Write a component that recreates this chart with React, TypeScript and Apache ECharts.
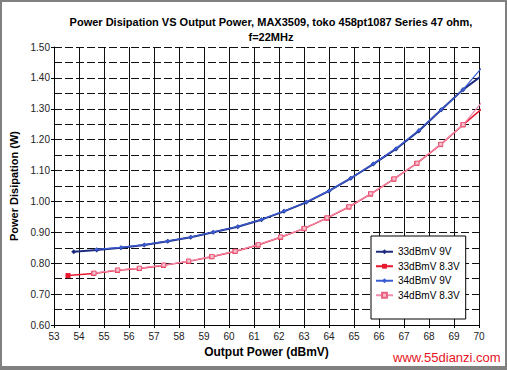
import React, { useEffect, useRef } from "react";
import * as echarts from "echarts";

const xTicks = { min: 53, max: 70, interval: 1 };
const yTicks = { min: 0.6, max: 1.5, interval: 0.1 };

const s33_9V_x = [53.79, 54.71, 55.68, 56.61, 57.55, 58.47, 59.37, 60.35, 61.30, 62.20, 63.09, 64.00, 64.87, 65.77, 66.68, 67.59, 68.49, 69.36, 70.30];
const s33_9V_y = [0.837, 0.843, 0.850, 0.859, 0.871, 0.884, 0.900, 0.918, 0.941, 0.968, 0.997, 1.034, 1.075, 1.121, 1.170, 1.228, 1.297, 1.362, 1.418];

const s34_9V_x = [54.70, 55.68, 56.62, 57.55, 58.48, 59.38, 60.36, 61.30, 62.21, 63.10, 64.01, 64.88, 65.78, 66.69, 67.60, 68.50, 69.37, 70.30];
const s34_9V_y = [0.845, 0.851, 0.860, 0.872, 0.885, 0.901, 0.919, 0.942, 0.969, 0.998, 1.035, 1.076, 1.122, 1.172, 1.231, 1.298, 1.363, 1.451];

const s33_83V_x = [53.56, 54.59, 55.54, 56.41, 57.38, 58.38, 59.31, 60.24, 61.16, 62.06, 63.00, 63.91, 64.79, 65.66, 66.59, 67.51, 68.46, 69.36, 70.30];
const s33_83V_y = [0.760, 0.767, 0.777, 0.783, 0.793, 0.806, 0.821, 0.838, 0.859, 0.884, 0.912, 0.946, 0.982, 1.024, 1.072, 1.123, 1.184, 1.248, 1.313];

const s34_83V_x = [54.60, 55.55, 56.42, 57.39, 58.39, 59.32, 60.25, 61.17, 62.07, 63.01, 63.92, 64.80, 65.67, 66.60, 67.52, 68.47, 69.37, 70.30];
const s34_83V_y = [0.768, 0.778, 0.784, 0.794, 0.807, 0.822, 0.839, 0.860, 0.885, 0.913, 0.947, 0.983, 1.025, 1.073, 1.124, 1.185, 1.249, 1.339];

const seriesNames = ["33dBmV 9V", "33dBmV 8.3V", "34dBmV 9V", "34dBmV 8.3V"];

const zip = (xs: number[], ys: number[]) => xs.map((x, i) => [x, ys[i]]);

export default function App() {
  const ref = useRef<HTMLDivElement>(null);
  useEffect(() => {
    if (!ref.current) return;
    const chart = echarts.init(ref.current, null, { renderer: "svg" });
    const font = "Arial, 'Liberation Sans', sans-serif";
    chart.setOption({
      animation: false,
      backgroundColor: "#ffffff",
      title: {
        text: "Power Disipation VS Output Power, MAX3509, toko 458pt1087 Series 47 ohm,\nf=22MHz",
        left: 266,
        top: 9,
        textAlign: "center",
        textStyle: { fontFamily: font, fontSize: 11, fontWeight: "bold", color: "#000", lineHeight: 15 },
      },
      grid: { left: 54, right: 28, top: 47, bottom: 45, containLabel: false },
      legend: {
        orient: "vertical",
        left: 371,
        top: 236,
        padding: [10, 6, 18, 4],
        itemGap: 3,
        itemWidth: 17,
        itemHeight: 6,
        backgroundColor: "#ffffff",
        borderColor: "#000",
        borderWidth: 1,
        borderRadius: 0,
        textStyle: { fontFamily: font, fontSize: 10, color: "#000", lineHeight: 11.5 },
        data: seriesNames,
      },
      xAxis: {
        type: "value",
        min: xTicks.min,
        max: xTicks.max,
        interval: xTicks.interval,
        name: "Output Power (dBmV)",
        nameLocation: "middle",
        nameGap: 20,
        nameTextStyle: { fontFamily: font, fontSize: 12, fontWeight: "bold", color: "#000" },
        axisLine: { show: true, lineStyle: { color: "#000", width: 1 } },
        axisTick: { show: true, inside: false, length: 3, lineStyle: { color: "#000" } },
        axisLabel: { fontFamily: font, fontSize: 10, color: "#222", margin: 6 },
        splitLine: { show: true, lineStyle: { color: "#111", width: 1, type: "solid" } },
      },
      yAxis: {
        type: "value",
        min: yTicks.min,
        max: yTicks.max,
        interval: yTicks.interval,
        name: "Power Disipation (W)",
        nameLocation: "middle",
        nameGap: 29,
        nameTextStyle: { fontFamily: font, fontSize: 11, fontWeight: "bold", color: "#000" },
        axisLine: { show: true, lineStyle: { color: "#000", width: 1 } },
        axisTick: { show: true, inside: false, length: 3, lineStyle: { color: "#000" } },
        axisLabel: { fontFamily: font, fontSize: 10, color: "#222", margin: 4, formatter: (v: number) => v.toFixed(2) },
        splitLine: { show: true, lineStyle: { color: "#111", width: 1, type: [8, 3] } },
        minorTick: { show: false, splitNumber: 2 },
        minorSplitLine: { show: true, lineStyle: { color: "#111", width: 1, type: [8, 3] } },
      },
      graphic: [
        { type: "rect", shape: { x: 0, y: 0, width: 507, height: 2 }, style: { fill: "#808080" }, silent: true },
        { type: "rect", shape: { x: 0, y: 0, width: 2, height: 370 }, style: { fill: "#808080" }, silent: true },
        { type: "rect", shape: { x: 505, y: 0, width: 2, height: 370 }, style: { fill: "#808080" }, silent: true },
        { type: "rect", shape: { x: 0, y: 366, width: 507, height: 4 }, style: { fill: "#808080" }, silent: true },
        {
          type: "text",
          left: 393,
          top: 351,
          style: { text: "www.55dianzi.com", font: "13px Arial, 'Liberation Sans', sans-serif", fill: "#e8141e" },
        },
      ],
      series: [
        {
          name: seriesNames[0],
          type: "line",
          data: zip(s33_9V_x, s33_9V_y),
          symbol: "diamond",
          symbolSize: 5,
          lineStyle: { color: "#1f2d80", width: 2 },
          itemStyle: { color: "#1f2d80" },
          clip: true,
          z: 2,
        },
        {
          name: seriesNames[1],
          type: "line",
          data: zip(s33_83V_x, s33_83V_y),
          symbol: "rect",
          symbolSize: 5,
          lineStyle: { color: "#e8162e", width: 1.5 },
          itemStyle: { color: "#e8162e" },
          clip: true,
          z: 2,
        },
        {
          name: seriesNames[2],
          type: "line",
          data: zip(s34_9V_x, s34_9V_y),
          symbol: "diamond",
          symbolSize: 4,
          lineStyle: { color: "#3a5cd4", width: 1.2 },
          itemStyle: { color: "#3a5cd4" },
          clip: true,
          z: 3,
        },
        {
          name: seriesNames[3],
          type: "line",
          data: zip(s34_83V_x, s34_83V_y),
          symbol: "rect",
          symbolSize: 4,
          lineStyle: { color: "#f08cae", width: 1.2 },
          itemStyle: { color: "#f7bfd0", borderColor: "#e8607f", borderWidth: 1 },
          clip: true,
          z: 3,
        },
      ],
    });
    return () => chart.dispose();
  }, []);
  return (
    <div
      ref={ref}
      style={{ position: "fixed", left: 0, top: 0, width: 507, height: 370, background: "#fff" }}
    />
  );
}
